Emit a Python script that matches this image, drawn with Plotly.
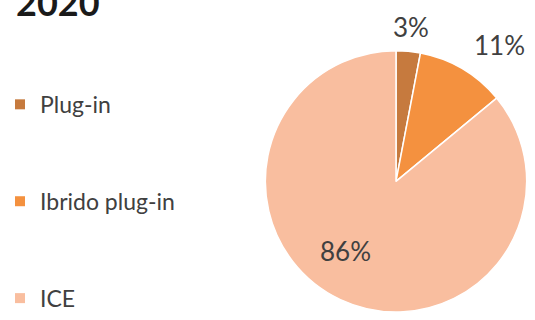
import plotly.graph_objects as go

# Quota di mercato per alimentazione, 2020
categories = ["Plug-in", "Ibrido plug-in", "ICE"]
shares = [3, 11, 86]
colors = ["#C67A3E", "#F4913F", "#F9BE9F"]
year_title = "2020"

W, H = 535, 320

# pie geometry in pixels (centre and radius of the domain box)
CX, CY, R = 396, 190, 138
# where each percentage label sits, in pixels
label_pos = [(411, 28), (499, 46), (345, 257)]

fig = go.Figure()

fig.add_trace(go.Pie(
    labels=categories,
    values=shares,
    sort=False,
    direction="clockwise",
    rotation=0,
    marker=dict(colors=colors, line=dict(color="white", width=1.5)),
    textinfo="none",
    domain=dict(x=[max(0, (CX - R) / W), min(1, (CX + R) / W)],
                y=[max(0, 1 - (CY + R) / H), min(1, 1 - (CY - R) / H)]),
    showlegend=False,
    hoverinfo="label+percent",
))

# Legend entries, one group each so they can be spaced apart
for name, col in zip(categories, colors):
    fig.add_trace(go.Scatter(
        x=[None], y=[None], mode="markers", name=name,
        legendgroup=name,
        marker=dict(symbol="square", size=10, color=col),
    ))

annotations = [dict(
    text="<b>" + year_title + "</b>", x=14 / W, y=0.995,
    xref="paper", yref="paper", xanchor="left", yanchor="middle",
    showarrow=False,
    font=dict(family="Lato", size=36, color="#1a1a1a"),
)]

total = sum(shares)
for v, (px, py) in zip(shares, label_pos):
    annotations.append(dict(
        text=f"{round(100 * v / total)}%",
        x=px / W, y=1 - py / H, xref="paper", yref="paper",
        xanchor="center", yanchor="middle", showarrow=False,
        font=dict(family="Lato", size=26, color="#404040"),
    ))

fig.update_layout(
    width=W, height=H,
    margin=dict(l=0, r=0, t=0, b=0),
    paper_bgcolor="white", plot_bgcolor="white",
    xaxis=dict(visible=False), yaxis=dict(visible=False),
    showlegend=True,
    legend=dict(
        x=0.0, y=1 - 85 / H, xanchor="left", yanchor="top",
        font=dict(family="Lato", size=23, color="#404040"),
        tracegroupgap=64, itemwidth=30,
        bgcolor="rgba(0,0,0,0)",
    ),
    annotations=annotations,
)

fig.write_html("out.html")
